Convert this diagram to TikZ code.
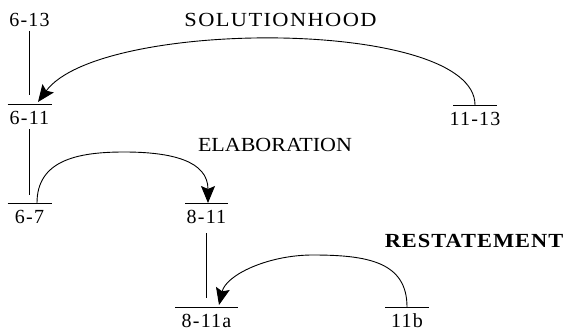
\documentclass[tikz,border=0pt]{standalone}
\usepackage{fontspec}
\setmainfont{Liberation Serif}
\newfontfamily\lblfont[LetterSpace=6]{Liberation Serif}
\newfontfamily\capfont[FakeStretch=1.12,LetterSpace=7]{Liberation Serif}
\newfontfamily\capnfont[FakeStretch=1.1]{Liberation Serif}
\newfontfamily\capbfont[FakeStretch=1.12,LetterSpace=5]{Liberation Serif}
\usetikzlibrary{arrows.meta,calc}
\begin{document}
\begin{tikzpicture}[x=1pt,y=-1pt,
  lbl/.style={font=\lblfont\fontsize{20}{24}\selectfont, inner sep=0pt},
  seg/.style={lbl, anchor=north, inner sep=0pt,
    text height=20pt, text depth=0pt,
    append after command={([xshift=-#1]\tikzlastnode.north) edge[line width=0.9pt] ([xshift=#1]\tikzlastnode.north)}},
  seg/.default=22pt,
  rel/.style={font=\capfont\fontsize{20}{24}\selectfont, inner sep=0pt, anchor=base},
  conn/.style={line width=0.9pt},
  arr/.style={conn, -{Stealth[length=17pt,width=14pt,inset=3pt]}}
]
\path[use as bounding box] (0,0) rectangle (567,331);

\node[lbl, anchor=base] (t613) at (29.5,26.5) {6-13};
\node[seg] (n611) at (29.5,104) {6-11};
\node[seg] (n1113) at (475,105) {11-13};
\node[seg] (n67) at (29.5,203) {6-7};
\node[seg=21.5pt] (n811) at (206.5,203) {8-11};
\node[seg=31.5pt] (n811a) at (206.5,307) {8-11a};
\node[seg] (n11b) at (407,307) {11b};

\node[rel] (lsol) at (280.5,26.5) {SOLUTIONHOOD};
\node[rel, font=\capnfont\fontsize{20}{24}\selectfont] (lela) at (275,151.5) {ELABORATION};
\node[rel, font=\capbfont\bfseries\fontsize{20}{24}\selectfont] (lres) at (474,247) {RESTATEMENT};

\draw[conn] ([yshift=-4.5pt]t613.base) -- ([yshift=9pt]n611.north);
\draw[conn] ([yshift=-5pt]n611.base) -- ([yshift=8pt]n67.north);
\draw[conn] ([yshift=-10pt]n811.base) -- ([yshift=9pt]n811a.north);

\draw[arr] (n1113.north) .. controls +(0,-87) and +(62,-84) .. ([xshift=8.5pt,yshift=2pt]n611.north);

\coordinate (elatop) at ($($(n67.north)!0.5!(n811.north)$)+(6,-51)$);
\draw[arr] ([xshift=7.5pt]n67.north) .. controls +(0,-42) and +(-48,0) .. (elatop)
  .. controls +(48,0) and +(0,-42) .. ([xshift=1.5pt]n811.north);

\coordinate (restop) at ($(n11b.north)!0.5!(n811a.north)+(6,-52)$);
\draw[arr] (n11b.north) .. controls +(0,-45) and +(55,0) .. (restop)
  .. controls +(-45,0) and +(7,-30) .. ([xshift=12.5pt,yshift=2pt]n811a.north);
\end{tikzpicture}
\end{document}
